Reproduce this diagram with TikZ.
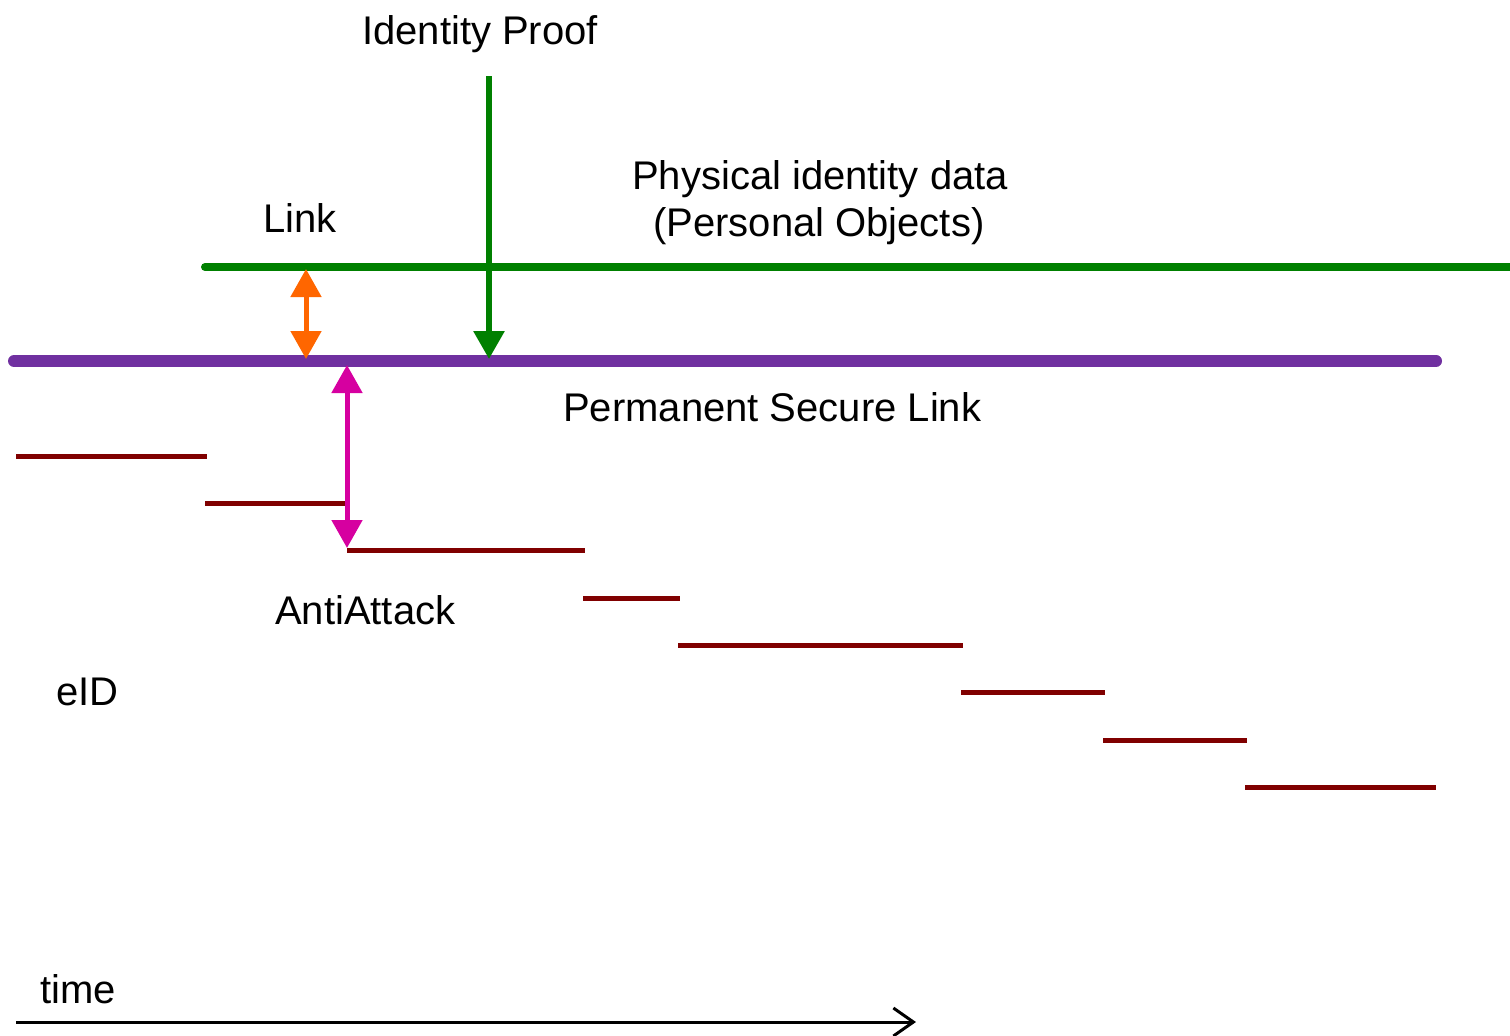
\documentclass[tikz,border=0pt]{standalone}
\usepackage{fontspec}
\setmainfont{Liberation Sans}
\usetikzlibrary{arrows.meta}
\definecolor{idgreen}{RGB}{0,128,0}
\definecolor{linkpurple}{RGB}{112,48,160}
\definecolor{linkorange}{RGB}{255,102,0}
\definecolor{attackmagenta}{RGB}{214,0,160}
\definecolor{eidred}{RGB}{128,0,0}
\begin{document}
\begin{tikzpicture}[x=1pt,y=-1pt,
  lbl/.style={inner sep=0pt,anchor=base west,font=\fontsize{40}{47}\selectfont},
  bighead/.style={Triangle[length=28pt,width=30pt]},
  eidseg/.style={draw=eidred,line width=5pt}]
\useasboundingbox (0,0) rectangle (1510,1036);

% layers
\coordinate (gL) at (205,267);
\coordinate (gR) at (1515,267);
\coordinate (pL) at (14,361);
\coordinate (pR) at (1436,361);
\draw[idgreen,line width=8pt,line cap=round] (gL) -- (gR);
\draw[linkpurple,line width=12pt,line cap=round] (pL) -- (pR);

% eID steps
\coordinate (e1a) at (16,456);   \coordinate (e1b) at (207,456);
\coordinate (e2a) at (205,503);  \coordinate (e2b) at (345,503);
\coordinate (e3a) at (347,550);  \coordinate (e3b) at (585,550);
\coordinate (e4a) at (583,598);  \coordinate (e4b) at (680,598);
\coordinate (e5a) at (678,645);  \coordinate (e5b) at (963,645);
\coordinate (e6a) at (961,692);  \coordinate (e6b) at (1105,692);
\coordinate (e7a) at (1103,740); \coordinate (e7b) at (1247,740);
\coordinate (e8a) at (1245,787); \coordinate (e8b) at (1436,787);
\foreach \i in {1,...,8} \draw[eidseg] (e\i a) -- (e\i b);

% arrows
\coordinate (ipTop) at (489,76);
\coordinate (ipBot) at (489,359);
\draw[idgreen,line width=6pt,-{Triangle[length=28pt,width=30pt]}] (ipTop) -- (ipBot);

\coordinate (lkTop) at (306,269);
\coordinate (lkBot) at (306,359);
\draw[linkorange,line width=5pt,{Triangle[length=28pt,width=30pt]}-{Triangle[length=28pt,width=30pt]}] (lkTop) -- (lkBot);

\coordinate (aaTop) at (347,365);
\coordinate (aaBot) at (347,548);
\draw[attackmagenta,line width=5pt,{Triangle[length=28pt,width=30pt]}-{Triangle[length=28pt,width=30pt]}] (aaTop) -- (aaBot);

% time axis
\coordinate (tL) at (16,1022);
\coordinate (tR) at (916,1022);
\draw[black,line width=3pt,-{Straight Barb[length=20pt,width=28pt,line width=3pt]}] (tL) -- (tR);

% labels
\node[lbl] (proof) at (362,44) {Identity Proof};
\node[lbl] (link) at (263,232) {Link};
\node[lbl] (phys1) at (632,189) {Physical identity data};
\node[lbl] (phys2) at (653,236) {(Personal Objects)};
\node[lbl] (psl) at (563,421) {Permanent Secure Link};
\node[lbl] (anti) at (275,624) {AntiAttack};
\node[lbl] (eid) at (56,705) {eID};
\node[lbl] (time) at (40,1003) {time};
\end{tikzpicture}
\end{document}
